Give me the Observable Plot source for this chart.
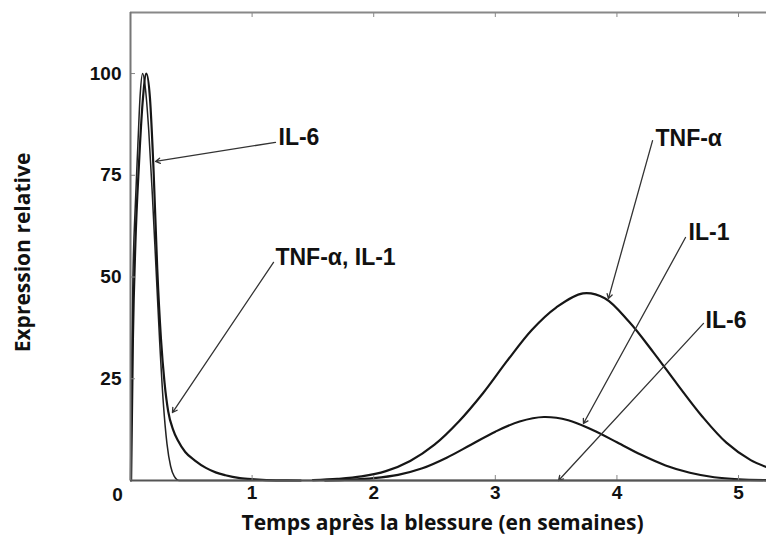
<!DOCTYPE html>
<html><head><meta charset="utf-8">
<script src="https://cdn.jsdelivr.net/npm/d3@7"></script>
<script src="https://cdn.jsdelivr.net/npm/@observablehq/plot@0.6"></script>
<style>body{margin:0;background:#fff;overflow:hidden}</style>
</head><body><div id="chart"></div>
<script>
// Time (weeks) / relative expression
const il6 = [[0,0],[0.01,30],[0.02,50],[0.04,68],[0.06,82],[0.08,95],[0.1,100],[0.12,97],[0.15,86],[0.18,70],[0.21,52],[0.24,34],[0.27,19],[0.3,9],[0.33,3.5],[0.36,1],[0.4,0],[1,0],[2,0],[3,0],[4,0],[5.23,0]];
const tnfEarly = [[0.005,0],[0.02,35],[0.04,58],[0.07,78],[0.1,93],[0.13,100],[0.16,94],[0.19,76],[0.22,52],[0.25,35],[0.28,24],[0.31,17],[0.35,12.5],[0.39,9.8],[0.45,7],[0.53,4.9],[0.62,3.1],[0.7,2],[0.78,1.3],[0.9,0.6],[1.02,0.3],[1.2,0.05],[1.4,0]];
const tnfLate = [[1.5,0.1],[1.7,0.4],[1.9,1.0],[2.1,2.3],[2.3,4.8],[2.5,8.8],[2.7,14.5],[2.9,21.5],[3.1,29.5],[3.3,37],[3.5,42.5],[3.72,46],[3.9,44.8],[4.1,39],[4.3,31.5],[4.5,23.5],[4.7,15.8],[4.9,9.3],[5.1,5.0],[5.23,3.3]];
const il1Late = [[1.6,0],[1.8,0.2],[2.0,0.6],[2.2,1.4],[2.4,3],[2.6,5.6],[2.8,8.8],[3.0,12],[3.2,14.5],[3.4,15.6],[3.6,14.8],[3.8,12.4],[4.0,9.4],[4.2,6.3],[4.4,3.7],[4.6,1.9],[4.8,0.8],[5.0,0.3],[5.23,0.1]];

const xTicks = [1, 2, 3, 4, 5];
const yTicks = [25, 50, 75, 100];
const xTitle = "Temps après la blessure (en semaines)";
const yTitle = "Expression relative";

// annotation labels (text, time, value) and arrows (from label to curve)
const labelText = ["IL-6", "TNF-α, IL-1", "TNF-α", "IL-1", "IL-6"];
const labelT = [1.217, 1.192, 4.317, 4.589, 4.729];
const labelV = [84.2, 54.8, 84.0, 60.9, 39.3];
const arrowFromT = [1.192, 1.176, 4.293, 4.564, 4.712];
const arrowFromV = [83.1, 53.6, 83.5, 59.7, 38.6];
const arrowToT = [0.206, 0.345, 3.93, 3.725, 3.52];
const arrowToV = [78.4, 16.7, 44.7, 14.0, 0];

const toRows = pts => pts.map(([t, v]) => ({t, v}));
const labels = labelText.map((text, i) => ({text, t: labelT[i], v: labelV[i]}));
const arrows = arrowFromT.map((t1, i) => ({t1, v1: arrowFromV[i], t2: arrowToT[i], v2: arrowToV[i]}));

const font = "Liberation Sans, Arial, sans-serif";
const titleFont = "Open Sans, sans-serif";
const ink = "#161616";

const chart = Plot.plot({
  width: 766,
  height: 550,
  marginLeft: 130,
  marginRight: 0,
  marginTop: 12,
  marginBottom: 70,
  style: {background: "#fff", color: "#111", fontFamily: font},
  x: {domain: [0, 5.23]},
  y: {domain: [0, 115]},
  marks: [
    Plot.line(toRows(il6), {x: "t", y: "v", stroke: "#222", strokeWidth: 1.5, curve: "monotone-x"}),
    Plot.line(toRows(tnfEarly), {x: "t", y: "v", stroke: ink, strokeWidth: 2.2, curve: "monotone-x"}),
    Plot.line(toRows(il1Late), {x: "t", y: "v", stroke: ink, strokeWidth: 2.2, curve: "catmull-rom"}),
    Plot.line(toRows(tnfLate), {x: "t", y: "v", stroke: ink, strokeWidth: 2.2, curve: "catmull-rom"}),
    Plot.arrow(arrows, {x1: "t1", y1: "v1", x2: "t2", y2: "v2", stroke: "#333", strokeWidth: 1.3, headLength: 6}),
    Plot.text(labels, {x: "t", y: "v", text: "text", textAnchor: "start", fontSize: 23, fontWeight: "bold", fontFamily: font, fill: "#111"}),
    // inward tick marks
    Plot.tickX(xTicks, {x: d => d, insetTop: 463, stroke: "#888", strokeWidth: 1}),
    Plot.tickX(xTicks, {x: d => d, insetBottom: 463, stroke: "#888", strokeWidth: 1}),
    Plot.tickY(yTicks, {y: d => d, insetRight: 631, stroke: "#888", strokeWidth: 1}),
    Plot.ruleY([0], {stroke: "#555", strokeWidth: 2}),
    Plot.ruleY([115], {stroke: "#888", strokeWidth: 2}),
    Plot.ruleX([0], {stroke: "#777", strokeWidth: 2}),
    Plot.axisY({ticks: yTicks, tickSize: 0, tickPadding: 9, fontSize: 19, fontWeight: "bold", fontFamily: font, label: null}),
    Plot.axisX({ticks: xTicks, tickSize: 0, tickPadding: 5, tickFormat: d3.format("d"), fontSize: 19, fontWeight: "bold", fontFamily: font, label: null}),
    Plot.text([0], {x: d => d, frameAnchor: "bottom", lineAnchor: "middle", dy: 14, dx: -13, text: d => String(d), fontSize: 19, fontWeight: "bold", fontFamily: font, fill: "#111"}),
    Plot.text([xTitle], {frameAnchor: "bottom", lineAnchor: "middle", textAnchor: "middle", dy: 43, dx: -6, text: d => d, fontSize: 21, fontWeight: "bold", fontFamily: titleFont, fill: "#111"}),
    Plot.text([yTitle], {frameAnchor: "left", textAnchor: "middle", lineAnchor: "middle", dx: -107, dy: 6, rotate: -90, text: d => d, fontSize: 21, fontWeight: "bold", fontFamily: titleFont, fill: "#111"})
  ]
});
document.getElementById("chart").appendChild(chart);
</script>
</body></html>
